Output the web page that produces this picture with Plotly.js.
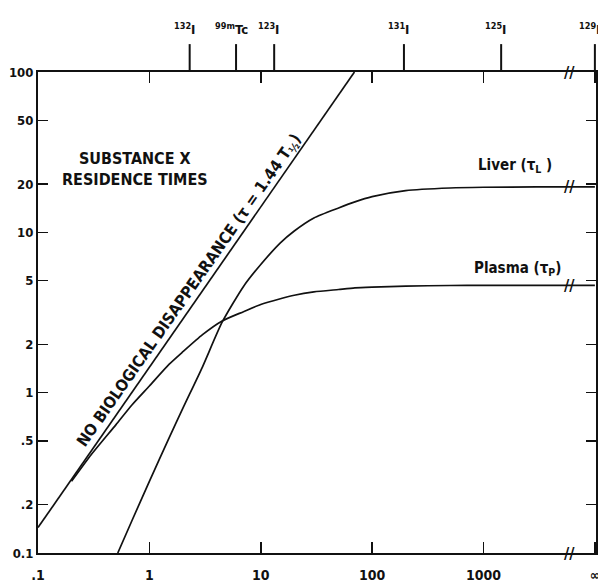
<!DOCTYPE html>
<html>
<head>
<meta charset="utf-8">
<script src="https://cdn.plot.ly/plotly-3.0.1.min.js"></script>
<style>html,body{margin:0;padding:0;background:#fff;}#chart{width:598px;height:588px;}</style>
</head>
<body>
<div id="chart"></div>
<script>
// ---- data (half-life T1/2 in hours vs residence time tau in hours) ----
const noBioT   = [0.1, 69.4];
const noBioTau = [0.144, 100];

const plasmaT   = [0.2, 0.3, 0.5, 0.7, 1, 1.5, 2, 3, 4.5, 7, 10, 15, 20, 30, 50, 70, 100, 200, 500, 1000, 3000, 10000];
const plasmaTau = [0.28, 0.41, 0.63, 0.84, 1.1, 1.5, 1.8, 2.3, 2.8, 3.2, 3.55, 3.85, 4.05, 4.25, 4.4, 4.5, 4.55, 4.62, 4.66, 4.67, 4.67, 4.67];

const liverT   = [0.52, 0.7, 1, 1.5, 2, 3, 4.5, 7, 10, 15, 20, 30, 50, 70, 100, 200, 500, 1000, 3000, 10000];
const liverTau = [0.1, 0.16, 0.28, 0.52, 0.8, 1.45, 2.75, 4.6, 6.3, 8.6, 10.2, 12.3, 14.2, 15.5, 16.7, 18.2, 18.9, 19.1, 19.2, 19.2];

const isotopeNames = ['<sup>132</sup>I', '<sup>99m</sup>Tc', '<sup>123</sup>I', '<sup>131</sup>I', '<sup>125</sup>I', '<sup>129</sup>I'];
const isotopeHalfLife = [2.3, 6.0, 13.2, 193, 1440, 10000];

const xTickVals = [0.1, 1, 10, 100, 1000, 10000];
const xTickText = ['.1', '1', '10', '100', '1000', '\u221e'];
const yTickVals = [0.1, 0.2, 0.5, 1, 2, 5, 10, 20, 50, 100];
const yTickText = ['0.1', '.2', '.5', '1', '2', '5', '10', '20', '50', '100'];

const breakT = 5900;
const breakLevels = [100, 19.2, 4.67, 0.1];

// ---- styling ----
const FONT = 'Liberation Sans Narrow, DejaVu Sans Condensed, Arial Narrow, sans-serif';
const lineStyle = {color: '#111', width: 1.7};

const traces = [
  {x: noBioT, y: noBioTau, mode: 'lines', line: lineStyle, hoverinfo: 'skip'},
  {x: plasmaT, y: plasmaTau, mode: 'lines', line: Object.assign({shape: 'spline', smoothing: 0.6}, lineStyle), hoverinfo: 'skip'},
  {x: liverT, y: liverTau, mode: 'lines', line: Object.assign({shape: 'spline', smoothing: 0.6}, lineStyle), hoverinfo: 'skip'}
];

const shapes = isotopeHalfLife.map(v => ({
  type: 'line', xref: 'x', yref: 'paper', x0: v, x1: v, y0: 1, y1: 1.058,
  line: {color: '#111', width: 2}
}));

const annotations = [];
isotopeNames.forEach((n, i) => {
  annotations.push({
    xref: 'x', yref: 'paper', x: Math.log10(isotopeHalfLife[i]), y: 1.09,
    text: n, showarrow: false, xanchor: 'right', yanchor: 'middle',
    xshift: (i === 1 ? 14 : 7),
    font: {family: FONT, size: 13, color: '#111', weight: 'bold'}
  });
});
breakLevels.forEach(v => {
  annotations.push({
    xref: 'x', yref: 'y', x: Math.log10(breakT), y: Math.log10(v),
    text: '//', showarrow: false, xanchor: 'center', yanchor: 'middle',
    font: {family: FONT, size: 16, color: '#111', weight: 'bold'}
  });
});
annotations.push(
  {xref: 'paper', yref: 'paper', x: 0.174, y: 0.798, text: 'SUBSTANCE X<br>RESIDENCE TIMES',
   showarrow: false, align: 'center', xanchor: 'center', yanchor: 'middle',
   font: {family: FONT, size: 16, color: '#111', weight: 'bold'}},
  {xref: 'paper', yref: 'paper', x: 0.272, y: 0.545,
   text: 'NO BIOLOGICAL DISAPPEARANCE (\u03c4 = 1.44 T<sub>\u00bd</sub>)',
   showarrow: false, textangle: -55, xanchor: 'center', yanchor: 'middle',
   font: {family: FONT, size: 16, color: '#111', weight: 'bold'}},
  {xref: 'paper', yref: 'paper', x: 0.855, y: 0.805, text: 'Liver (\u03c4<sub>L</sub> )',
   showarrow: false, xanchor: 'center', yanchor: 'middle',
   font: {family: FONT, size: 15, color: '#111', weight: 'bold'}},
  {xref: 'paper', yref: 'paper', x: 0.86, y: 0.592, text: 'Plasma (\u03c4<sub>P</sub>)',
   showarrow: false, xanchor: 'center', yanchor: 'middle',
   font: {family: FONT, size: 15, color: '#111', weight: 'bold'}}
);

const layout = {
  width: 598, height: 588,
  margin: {l: 38, r: 2, t: 72, b: 35},
  paper_bgcolor: '#fff', plot_bgcolor: '#fff',
  showlegend: false,
  font: {family: FONT, size: 13, color: '#111'},
  xaxis: {
    type: 'log', range: [-1, 4.01],
    tickmode: 'array', tickvals: xTickVals, ticktext: xTickText,
    ticks: 'inside', ticklen: 11, tickwidth: 1.5, tickcolor: '#111',
    showline: true, linewidth: 2, linecolor: '#111', mirror: 'ticks',
    showgrid: false, zeroline: false, ticklabelstandoff: 8, ticklabeloverflow: 'allow',
    tickfont: {family: FONT, size: 14, color: '#111', weight: 'bold'}
  },
  yaxis: {
    type: 'log', range: [-1, 2],
    tickmode: 'array', tickvals: yTickVals, ticktext: yTickText,
    ticks: 'inside', ticklen: 10, tickwidth: 1.5, tickcolor: '#111',
    showline: true, linewidth: 2, linecolor: '#111', mirror: 'ticks',
    showgrid: false, zeroline: false,
    tickfont: {family: FONT, size: 13, color: '#111', weight: 'bold'}
  },
  shapes: shapes,
  annotations: annotations
};

Plotly.newPlot('chart', traces, layout, {staticPlot: true, displayModeBar: false});
</script>
</body>
</html>
